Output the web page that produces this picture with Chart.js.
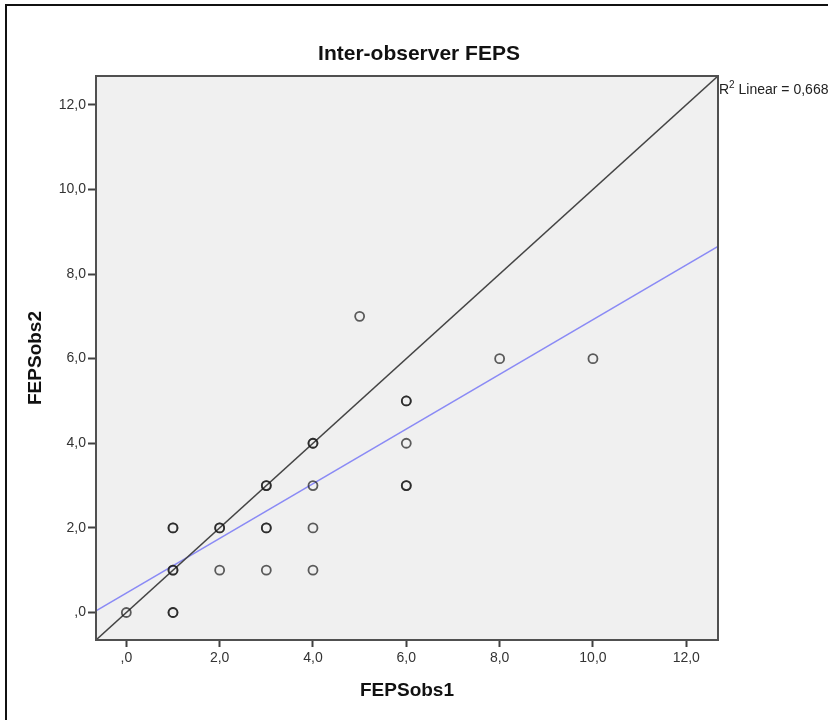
<!DOCTYPE html>
<html>
<head>
<meta charset="utf-8">
<script src="https://cdn.jsdelivr.net/npm/chart.js@4.4.1/dist/chart.umd.min.js"></script>
<style>
  html, body { margin: 0; padding: 0; background: #fff; }
  #wrap { position: relative; width: 828px; height: 720px; }
  canvas { display: block; }
</style>
</head>
<body>
<div id="wrap"><canvas id="c" width="828" height="720"></canvas></div>
<script>
// ---- Data ----
const titleText = "Inter-observer FEPS";
const xLabel = "FEPSobs1";
const yLabel = "FEPSobs2";
// observations (duplicates drawn twice -> darker rings, as in the reference)
const obs1 = [0, 1, 1, 1, 1, 1, 1, 2, 2, 2, 3, 3, 3, 3, 3, 4, 4, 4, 4, 4, 5, 6, 6, 6, 6, 6, 8, 10];
const obs2 = [0, 0, 0, 1, 1, 2, 2, 1, 2, 2, 1, 2, 2, 3, 3, 1, 2, 3, 4, 4, 7, 3, 3, 4, 5, 5, 6, 6];
const tickValues = [0, 2, 4, 6, 8, 10, 12];
const axisMin = -0.65;
const axisMax = 12.68;
const fitIntercept = 0.46;
const fitSlope = 0.646;
const r2Label = "0,668";

const FONT = "'Liberation Sans', Arial, Helvetica, sans-serif";
const points = obs1.map((x, i) => ({ x: x, y: obs2[i] }));
const identityLine = [{ x: axisMin, y: axisMin }, { x: axisMax, y: axisMax }];
const fitLine = [axisMin, axisMax].map(x => ({ x: x, y: fitIntercept + fitSlope * x }));

function fmt(v) {
  if (v === 0) return ",0";
  return v.toFixed(1).replace(".", ",");
}

const decor = {
  id: "decor",
  beforeDraw(chart) {
    const { ctx, chartArea: a } = chart;
    ctx.save();
    ctx.fillStyle = "#ffffff";
    ctx.fillRect(0, 0, chart.width, chart.height);
    ctx.fillStyle = "#f0f0f0";
    ctx.fillRect(a.left, a.top, a.right - a.left, a.bottom - a.top);
    // outer frame (left + top visible)
    ctx.fillStyle = "#111";
    ctx.fillRect(5, 4, 2, chart.height - 4);
    ctx.fillRect(5, 4, chart.width - 5, 2);
    // title
    ctx.fillStyle = "#111";
    ctx.font = "bold 21px " + FONT;
    ctx.textAlign = "center";
    ctx.textBaseline = "middle";
    ctx.fillText(titleText, 419, 54);
    ctx.restore();
  },
  afterDraw(chart) {
    const { ctx, chartArea: a } = chart;
    ctx.save();
    ctx.strokeStyle = "#505050";
    ctx.lineWidth = 2;
    ctx.strokeRect(a.left, a.top, a.right - a.left, a.bottom - a.top);
    // R² label
    ctx.fillStyle = "#222";
    ctx.textBaseline = "alphabetic";
    ctx.textAlign = "left";
    let x = a.right + 1;
    const y = 94;
    ctx.font = "14px " + FONT;
    ctx.fillText("R", x, y);
    x += ctx.measureText("R").width;
    ctx.font = "10px " + FONT;
    ctx.fillText("2", x, y - 6);
    x += ctx.measureText("2").width;
    ctx.font = "14px " + FONT;
    ctx.fillText(" Linear = " + r2Label, x, y);
    ctx.restore();
  }
};

function axis(titleTxt, isX) {
  return {
    type: "linear",
    min: axisMin,
    max: axisMax,
    afterBuildTicks(scale) { scale.ticks = tickValues.map(v => ({ value: v })); },
    afterFit(scale) {
      if (isX) scale.height = 80; else scale.width = 96;
    },
    grid: {
      display: true,
      drawOnChartArea: false,
      drawTicks: true,
      tickLength: isX ? 7 : 8,
      tickWidth: 2,
      tickColor: "#404040"
    },
    border: { display: true, color: "#505050", width: 2 },
    ticks: {
      callback: v => fmt(v),
      color: "#333",
      font: { family: FONT, size: 14 },
      padding: isX ? 3 : 2,
      maxRotation: 0,
      autoSkip: false
    },
    title: {
      display: true,
      text: titleTxt,
      color: "#111",
      font: { family: FONT, size: 19, weight: "bold" },
      padding: isX ? { top: 0, bottom: 18 } : { top: 24, bottom: 0 }
    }
  };
}

new Chart(document.getElementById("c"), {
  type: "scatter",
  data: {
    datasets: [
      {
        type: "line",
        data: identityLine,
        borderColor: "#444",
        borderWidth: 1.5,
        pointRadius: 0,
        fill: false,
        order: 2
      },
      {
        type: "line",
        data: fitLine,
        borderColor: "#8a8af5",
        borderWidth: 1.5,
        pointRadius: 0,
        fill: false,
        order: 3
      },
      {
        data: points,
        pointRadius: 4.5,
        pointBorderWidth: 1.8,
        pointBackgroundColor: "rgba(0,0,0,0)",
        pointBorderColor: "rgba(25,25,25,0.7)",
        order: 1
      }
    ]
  },
  options: {
    responsive: false,
    animation: false,
    devicePixelRatio: 1,
    layout: { padding: { top: 76, right: 110, left: 0, bottom: 0 } },
    plugins: {
      legend: { display: false },
      title: { display: false },
      tooltip: { enabled: false }
    },
    scales: {
      x: axis(xLabel, true),
      y: axis(yLabel, false)
    }
  },
  plugins: [decor]
});
</script>
</body>
</html>
